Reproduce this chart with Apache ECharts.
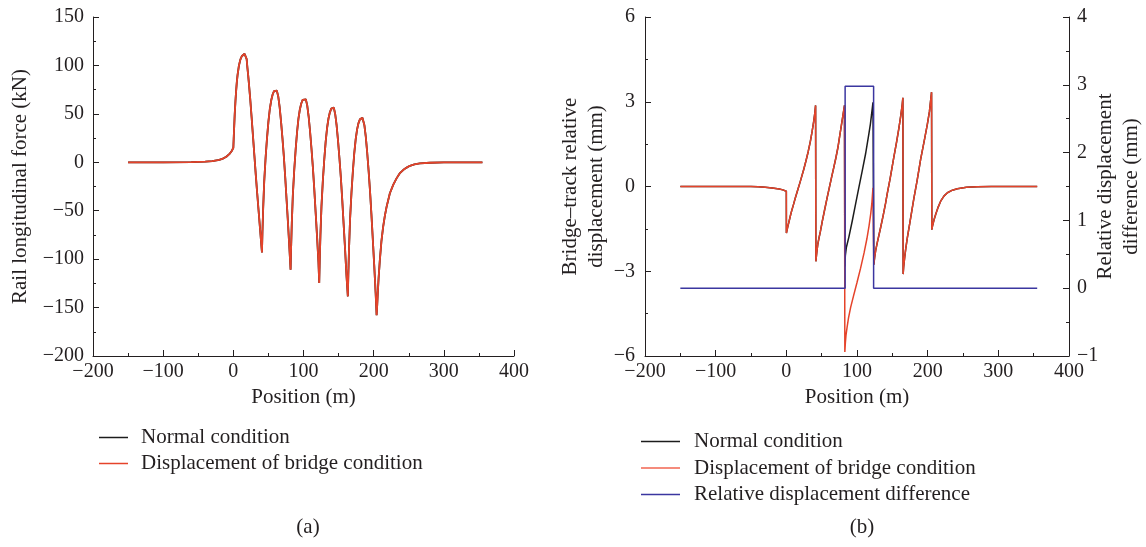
<!DOCTYPE html>
<html><head><meta charset="utf-8">
<script src="https://cdn.jsdelivr.net/npm/echarts@6/dist/echarts.min.js"></script>
<style>html,body{margin:0;padding:0;background:#fff}#c{width:1146px;height:547px}</style>
</head><body><div id="c"></div><script>
// ---------- DATA ----------
// (a) Rail longitudinal force (kN) vs position (m); both conditions coincide
const railForce = [
[-150,0],[-100,0],[-60,0.2],[-40,0.6],[-30,1.2],[-20,2.5],[-15,3.8],[-10,5.7],[-5,9],[-2,12],[0,15],
[0.5,24],[1,33],[2,50],[3,63],[4,74],[5,83],[6,90],[8,100],[10,106],[12,109.5],[14,111.5],[16,112],
[17,111.5],[18,110],[19,106.5],[20,98],[21,91],[22,83],[24,66],[26,47],[28,27],[30,7],[32,-13],[34,-32],[36,-50],[38,-68],[40,-86],[40.8,-93],
[41.5,-72],[42.5,-48],[44,-20],[46,5],[48,25],[50,42],[52,55],[54,64],[56,70],[58,73.5],[60,75],[61,75],
[62,74],[64,68],[66,57],[68,42],[70,25],[72,6],[74,-16],[76,-40],[78,-64],[80,-90],[81.6,-111],
[82.3,-89],[83.3,-63.6],[84.8,-34],[86.8,-8],[88.8,13],[90.8,31],[92.8,45],[94.8,54.5],[96.8,60.7],[98.8,64.4],[101.3,66],
[102.3,66],[103.3,65],[105.3,58.8],[107.3,47.5],[109.3,32.3],[111.3,14.8],[113.3,-4.5],[115.3,-27],[117.3,-51.7],[119.3,-76.3],[121.3,-103],[122.4,-124.5],
[123.1,-101.8],[124.1,-75.9],[125.6,-45.5],[127.6,-18.7],[129.6,2.9],[131.6,21.4],[133.6,35.4],[135.6,45.2],[137.6,51.6],[139.6,55.4],[142.2,57],
[143.2,56.5],[145.2,49.6],[147.2,38],[149.2,22.4],[151.2,4.4],[153.2,-15.3],[155.2,-38.6],[157.2,-63.8],[159.2,-89],[161.2,-116.4],[163.2,-138.5],
[163.9,-115.5],[164.9,-89.1],[166.4,-58.2],[168.4,-30.9],[170.4,-9],[172.4,9.8],[174.4,24],[176.4,34],[178.4,40.5],[180.4,44.3],[182.2,45.7],[184,46],
[185,45.4],[186.8,38.2],[188.8,26.2],[190.8,9.9],[192.8,-8.9],[194.8,-29.5],[196.8,-53.8],[198.8,-80],[200.8,-106.4],[202.8,-135],[204.2,-158],
[205,-148],[206,-133],[207,-120],[208.8,-101],[211,-82],[213.5,-66.6],[216,-55],[218.4,-46],[223.1,-32],[228,-23],[232.6,-16.6],[237,-11.5],
[242,-8],[247,-5.5],[251.6,-3.6],[258,-2.2],[265.8,-1.2],[280,-0.5],[300,-0.1],[320,0],[355,0]
];

// (b) Bridge-track relative displacement (mm): segments shared by both conditions
const relCommonLeft = [
[-150,0],[-50,0],[-40,-0.01],[-30,-0.03],[-20,-0.05],[-10,-0.09],[-5,-0.12],[0,-0.17],
[0.1,-1.65],[2,-1.43],[4,-1.22],[6,-1.01],[8,-0.82],[10,-0.65],[12.8,-0.4],[16,-0.13],[20,0.2],[24.6,0.6],[28,0.93],[31,1.24],[34,1.6],[36.5,1.95],[38.7,2.3],[40.3,2.6],[41.4,2.87],
[41.8,-2.65],[43,-2.35],[44.5,-2.05],[46,-1.85],[48.2,-1.59],[51,-1.22],[54,-0.85],[57.7,-0.4],[61,-0.02],[64,0.32],[67.1,0.67],[70,1.0],[73,1.38],[75.6,1.8],[78,2.18],[80,2.5],[82.3,2.87]
];
// span with displaced pier: normal condition
const relSpan3Normal = [
[82.8,-2.83],[83.5,-2.45],[85,-2.15],[88.4,-1.8],[93.2,-1.23],[97.9,-0.63],[102.6,-0.04],[107.4,0.55],[112.1,1.15],[116.8,1.86],[119,2.22],[120.6,2.55],[122.6,2.98]
];
// span with displaced pier: displacement of bridge condition
const relSpan3Bridge = [
[82.8,-5.86],[83.5,-5.55],[84.5,-5.25],[86,-4.98],[88,-4.65],[91,-4.28],[95,-3.88],[100,-3.4],[105,-2.9],[110,-2.35],[114,-1.85],[117,-1.4],[119.5,-0.95],[121,-0.6],[122.6,-0.05]
];
const relCommonRight = [
[123.8,-2.77],[125,-2.5],[126.5,-2.25],[129,-1.95],[133.3,-1.47],[137,-1.03],[140.4,-0.6],[142.8,-0.25],[147,0.3],[152.2,1.05],[156,1.57],[159.3,2.07],[162,2.52],[164,2.9],[164.9,3.14],
[165.3,-3.1],[166,-2.85],[167.5,-2.5],[169,-2.2],[171.2,-1.82],[175,-1.25],[180.6,-0.4],[185,0.2],[190.1,0.97],[195,1.6],[199.6,2.21],[202.5,2.65],[205.5,3.34],
[205.9,-1.53],[207,-1.38],[209,-1.18],[211.3,-0.99],[215,-0.72],[218.4,-0.52],[223,-0.34],[227.9,-0.22],[235,-0.13],[242,-0.08],[255,-0.03],[270,-0.01],[290,0],[355,0]
];
const relNormal = relCommonLeft.concat(relSpan3Normal, relCommonRight);
const relBridge = relCommonLeft.concat(relSpan3Bridge, relCommonRight);
// relative displacement difference (mm), right axis
const relDiff = [[-150,0],[83.2,0],[83.2,2.98],[123.5,2.98],[123.5,0],[355,0]];

const seriesNames = ['Normal condition','Displacement of bridge condition','Relative displacement difference'];
const captions = ['(a)','(b)'];

// ---------- STYLE ----------
const FONT = 'Liberation Serif';
const INK = '#231f20';
const C_BLACK = '#1c1c1c', C_RED = '#e5432a', C_RED_LEG = '#f26450', C_BLUE = '#3b36a0';
const minus = v => String(v).replace('-', '\u2212');

function xAxisCfg(gi){
  return {
    type:'value', gridIndex:gi, min:-200, max:400, interval:100,
    name:'Position (m)', nameLocation:'middle', nameGap:28,
    nameTextStyle:{fontFamily:FONT,fontSize:21,color:INK},
    axisLine:{show:true,onZero:false,lineStyle:{color:INK,width:1}},
    axisTick:{show:true,inside:true,length:6,lineStyle:{color:INK}},
    minorTick:{show:true,splitNumber:2,length:3,lineStyle:{color:INK}},
    axisLabel:{fontFamily:FONT,fontSize:20,color:INK,margin:6,formatter:minus},
    splitLine:{show:false}, minorSplitLine:{show:false}
  };
}
function yAxisCfg(gi,min,max,interval,name,pos,nameGap,labelMargin,moveOverlap){
  return {
    type:'value', gridIndex:gi, min:min, max:max, interval:interval, position:pos,
    name:name, nameLocation:'middle', nameGap:nameGap, nameRotate:90, nameMoveOverlap:moveOverlap,
    nameTextStyle:{fontFamily:FONT,fontSize:21,color:INK,lineHeight:26},
    axisLine:{show:true,onZero:false,lineStyle:{color:INK,width:1}},
    axisTick:{show:true,inside:true,length:6,lineStyle:{color:INK}},
    minorTick:{show:true,splitNumber:2,length:3,lineStyle:{color:INK}},
    axisLabel:{fontFamily:FONT,fontSize:20,color:INK,margin:labelMargin,formatter:minus},
    splitLine:{show:false}, minorSplitLine:{show:false}
  };
}
function lineSeries(name,data,color,xi,yi,w){
  return {type:'line',name:name,data:data,xAxisIndex:xi,yAxisIndex:yi,
    symbol:'none',showSymbol:false,smooth:false,animation:false,
    lineStyle:{color:color,width:w},itemStyle:{color:color},emphasis:{disabled:true}};
}

const chart = echarts.init(document.getElementById('c'));
chart.setOption({
  animation:false,
  backgroundColor:'#fff',
  grid:[
    {left:93, top:17, width:421, height:339, outerBoundsMode:'none', containLabel:false},
    {left:645, top:17, width:424, height:339, outerBoundsMode:'none', containLabel:false}
  ],
  xAxis:[xAxisCfg(0), xAxisCfg(1)],
  yAxis:[
    yAxisCfg(0,-200,150,50,'Rail longitudinal force (kN)','left',60,9,true),
    yAxisCfg(1,-6,6,3,'Bridge\u2013track relative\ndisplacement (mm)','left',36,10,true),
    yAxisCfg(1,-1,4,1,'Relative displacement\ndifference (mm)','right',23,8,false)
  ],
  legend:[
    {orient:'vertical', left:99, top:427, padding:0, itemWidth:29, itemHeight:1.5, itemGap:5, icon:'rect',
     selectedMode:false,
     textStyle:{fontFamily:FONT,fontSize:21,color:INK,padding:[0,0,0,8]},
     data:[
       {name:seriesNames[0], icon:'rect', itemStyle:{color:C_BLACK}},
       {name:seriesNames[1], icon:'rect', itemStyle:{color:C_RED}}
     ]},
    {orient:'vertical', left:641, top:431, padding:0, itemWidth:39, itemHeight:1.5, itemGap:5.5, icon:'rect',
     selectedMode:false,
     textStyle:{fontFamily:FONT,fontSize:21,color:INK,padding:[0,0,0,9]},
     data:[
       {name:seriesNames[0], icon:'rect', itemStyle:{color:C_BLACK}},
       {name:seriesNames[1], icon:'rect', itemStyle:{color:C_RED_LEG}},
       {name:seriesNames[2], icon:'rect', itemStyle:{color:C_BLUE}}
     ]}
  ],
  title:[
    {text:captions[0], left:303, top:512, textAlign:'center', textStyle:{fontFamily:FONT,fontSize:21,fontWeight:'normal',color:INK}},
    {text:captions[1], left:857, top:512, textAlign:'center', textStyle:{fontFamily:FONT,fontSize:21,fontWeight:'normal',color:INK}}
  ],
  series:[
    lineSeries(seriesNames[0], railForce, C_BLACK, 0, 0, 1.8),
    lineSeries(seriesNames[1], railForce, C_RED, 0, 0, 1.8),
    lineSeries(seriesNames[0], relNormal, C_BLACK, 1, 1, 1.5),
    lineSeries(seriesNames[1], relBridge, C_RED, 1, 1, 1.5),
    lineSeries(seriesNames[2], relDiff, C_BLUE, 1, 2, 1.5)
  ]
});
</script></body></html>
